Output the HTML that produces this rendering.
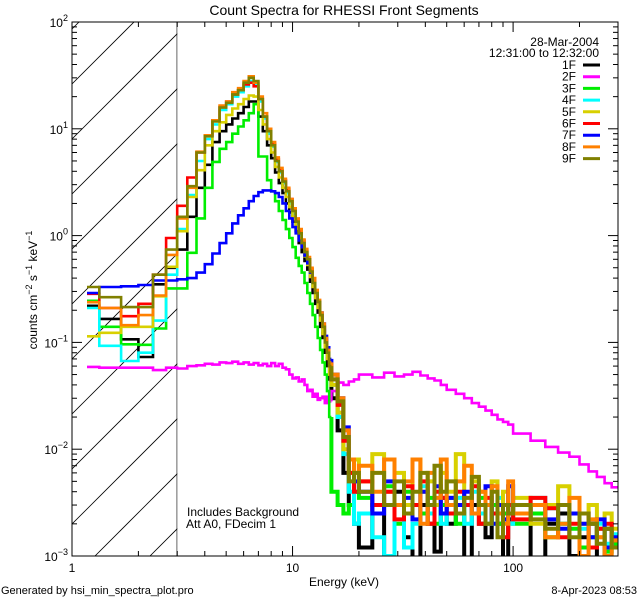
<!DOCTYPE html>
<html><head><meta charset="utf-8"><title>Count Spectra for RHESSI Front Segments</title>
<style>
html,body{margin:0;padding:0;background:#fff;overflow:hidden;width:640px;height:600px;}
svg{display:block;font-family:"Liberation Sans",sans-serif;}
</style></head>
<body>
<svg id="chart" width="640" height="600" viewBox="0 0 640 600" xmlns="http://www.w3.org/2000/svg">
<rect width="640" height="600" fill="#fff"/>
<text x="344" y="15" font-size="14" text-anchor="middle">Count Spectra for RHESSI Front Segments</text>
<g id="hatch"></g>
<g id="series"></g>
<g id="axes"></g>
<text x="344" y="586" font-size="12" text-anchor="middle">Energy (keV)</text>
<text transform="translate(37,290) rotate(-90)" font-size="12" text-anchor="middle">counts cm<tspan dy="-5" font-size="9">−2</tspan><tspan dy="5"> s</tspan><tspan dy="-5" font-size="9">−1</tspan><tspan dy="5"> keV</tspan><tspan dy="-5" font-size="9">−1</tspan></text>
<text x="187" y="516" font-size="12">Includes Background</text>
<text x="186" y="528" font-size="12">Att A0, FDecim 1</text>
<text x="599" y="46" font-size="12" text-anchor="end">28-Mar-2004</text>
<text x="599" y="57" font-size="12" text-anchor="end">12:31:00 to 12:32:00</text>
<g id="legend"></g>
<text x="1" y="594" font-size="11">Generated by hsi_min_spectra_plot.pro</text>
<text x="637" y="594" font-size="11" text-anchor="end">8-Apr-2023 08:53</text>
</svg>
<script>
const edges=[1.17,1.33,1.67,2,2.33,2.67,3,
3.333,3.667,4,4.333,4.667,5,5.333,5.667,6,6.333,6.667,7,7.333,7.667,8,8.333,8.667,9,9.333,9.667,10,10.333,10.667,11,11.333,11.667,12,12.333,12.667,13,13.333,13.667,14,14.333,14.667,15,
16,17,18,19,20,23,26,29,32,35,38,41,44,47,50,55,60,65,70,75,80,85,90,95,100,120,140,160,180,200,220,240,260,280,300];
const seriesNames=["1F","2F","3F","4F","5F","6F","7F","8F","9F"];
const seriesColors=["#000000","#ff00ff","#00ee00","#00ffff","#d8d000","#ff0000","#0000ff","#ff8000","#808000"];
const s1F=[0.22,0.166,0.107,0.073,0.35,0.5,
0.74,1.5,2.8,4.6,7.5,9.5,11,12.5,14,16,18,18,13,9.5,7,5.3,3.9,3.1,2.5,2.0,1.65,1.35,1.1,0.85,0.7,0.58,0.48,0.37,0.29,0.23,0.19,0.14,0.11,0.08,0.06,0.045,
0.03,0.015,0.006,0.003,0.002,0.0012,0.003,0.0008,0.004,0.0015,0.0009,0.003,0.002,0.0011,0.0035,0.002,0.0025,0.0008,0.003,0.002,0.0015,0.0025,0.002,0.0009,0.0022,0.003,0.0008,0.002,0.0025,0.001,0.0015,0.002,0.0009,0.0018,0.0012];
const s2F=[0.059,0.058,0.058,0.058,0.055,0.058,
0.057,0.06,0.061,0.063,0.062,0.065,0.064,0.066,0.063,0.065,0.062,0.064,0.061,0.063,0.06,0.064,0.06,0.063,0.058,0.056,0.05,0.046,0.047,0.043,0.045,0.04,0.035,0.036,0.031,0.033,0.029,0.03,0.031,0.027,0.031,0.028,
0.035,0.042,0.04,0.043,0.045,0.05,0.047,0.052,0.048,0.05,0.053,0.049,0.046,0.044,0.04,0.036,0.033,0.03,0.027,0.025,0.023,0.021,0.019,0.018,0.017,0.014,0.012,0.0105,0.0093,0.0085,0.0072,0.0062,0.0055,0.0048,0.0044];
const s3F=[0.245,0.14,0.096,0.095,0.135,0.32,
0.32,0.69,1.45,2.8,4.9,6.5,7.5,9,10.5,12,14,17,5.5,5.5,3.3,2.6,2.1,1.7,1.4,1.15,0.95,0.78,0.62,0.52,0.45,0.36,0.29,0.23,0.18,0.14,0.11,0.085,0.065,0.05,0.035,0.02,
0.004,0.003,0.0025,0.003,0.004,0.0035,0.003,0.0045,0.002,0.004,0.003,0.0025,0.0035,0.002,0.003,0.0035,0.002,0.003,0.0025,0.0035,0.002,0.003,0.002,0.0025,0.003,0.002,0.0025,0.0015,0.002,0.0018,0.0012,0.0015,0.0018,0.0011,0.0013];
const s4F=[0.21,0.093,0.067,0.08,0.16,0.43,
1.15,2.4,5,8,11,15,17,20,22,25,28,26,18,12.5,9,6.8,4.9,3.9,3.1,2.5,2.0,1.6,1.3,1.0,0.82,0.68,0.57,0.44,0.35,0.28,0.23,0.17,0.13,0.095,0.075,0.055,
0.04,0.02,0.009,0.004,0.002,0.0025,0.0015,0.001,0.003,0.0012,0.002,0.0045,0.0025,0.003,0.002,0.003,0.0035,0.002,0.004,0.0025,0.003,0.002,0.0035,0.003,0.002,0.0025,0.0035,0.0028,0.002,0.0025,0.0018,0.0015,0.002,0.0013,0.0016];
const s5F=[0.114,0.123,0.14,0.14,0.27,0.51,
1.1,2.3,4.1,7,9.5,11.5,13.5,15.5,17,19,20.5,20,15,11,8,6,4.4,3.5,2.8,2.3,1.85,1.5,1.2,0.95,0.78,0.64,0.53,0.41,0.33,0.26,0.21,0.16,0.12,0.09,0.07,0.05,
0.04,0.022,0.01,0.006,0.008,0.005,0.009,0.004,0.006,0.003,0.008,0.004,0.005,0.003,0.006,0.004,0.009,0.003,0.005,0.004,0.003,0.005,0.0025,0.004,0.003,0.0035,0.002,0.003,0.0045,0.0025,0.002,0.003,0.0015,0.0025,0.0018];
const s6F=[0.285,0.21,0.176,0.23,0.43,0.95,
1.9,3.5,6,8.7,12,16,18,21,23,26,27,25,19,13,9.5,7.2,5.2,4.1,3.3,2.7,2.2,1.75,1.4,1.1,0.9,0.72,0.6,0.48,0.38,0.3,0.24,0.18,0.14,0.105,0.08,0.06,
0.045,0.026,0.012,0.006,0.004,0.005,0.003,0.004,0.0022,0.0045,0.003,0.005,0.002,0.004,0.0035,0.0025,0.004,0.003,0.0045,0.002,0.0035,0.0025,0.003,0.0015,0.003,0.0022,0.0035,0.0028,0.0015,0.002,0.0025,0.0012,0.0018,0.002,0.0014];
const s7F=[0.29,0.33,0.335,0.345,0.38,0.38,
0.39,0.40,0.45,0.54,0.68,0.85,1.05,1.3,1.55,1.8,2.1,2.35,2.55,2.65,2.65,2.6,2.5,2.3,2.0,1.7,1.45,1.2,1.05,0.9,0.78,0.65,0.55,0.45,0.37,0.3,0.24,0.19,0.15,0.115,0.09,0.07,
0.05,0.03,0.016,0.008,0.005,0.004,0.0025,0.005,0.003,0.0035,0.0022,0.004,0.003,0.0045,0.0025,0.0035,0.003,0.004,0.0025,0.003,0.0045,0.002,0.003,0.0022,0.0045,0.0025,0.003,0.0022,0.0018,0.0025,0.002,0.0015,0.0022,0.0012,0.0015];
const s8F=[0.238,0.21,0.145,0.18,0.275,0.66,
1.45,2.8,6.1,8.7,12,16.5,18,22,24,28,31,27,20,14,10,7.5,5.4,4.3,3.4,2.8,2.2,1.8,1.45,1.15,0.92,0.75,0.63,0.5,0.4,0.31,0.25,0.19,0.15,0.11,0.085,0.065,
0.05,0.03,0.015,0.008,0.006,0.007,0.004,0.008,0.003,0.005,0.008,0.002,0.006,0.0035,0.008,0.003,0.005,0.007,0.0025,0.004,0.003,0.0045,0.0025,0.002,0.005,0.0025,0.003,0.0015,0.002,0.0035,0.001,0.0022,0.0015,0.001,0.0014];
const s9F=[0.33,0.265,0.214,0.214,0.43,0.74,
1.5,2.9,6.0,8.5,11.7,15.8,17.5,21,23,27,30,28,19,13,9.5,7,5,4,3.2,2.6,2.1,1.7,1.35,1.05,0.85,0.7,0.6,0.46,0.36,0.29,0.24,0.18,0.14,0.1,0.08,0.06,
0.045,0.028,0.013,0.005,0.006,0.004,0.006,0.003,0.005,0.0025,0.004,0.006,0.003,0.007,0.004,0.005,0.0025,0.0035,0.0055,0.003,0.002,0.004,0.0015,0.003,0.0025,0.003,0.0022,0.0018,0.003,0.0015,0.0025,0.002,0.0013,0.0018,0.0012];
const seriesValues=[s1F,s2F,s3F,s4F,s5F,s6F,s7F,s8F,s9F];
const xTickLabels=["1","10","100"];
const yTickExps=["2","1","0","−1","−2","−3"];

const NS="http://www.w3.org/2000/svg";
const X0=72,X1=618,Y0=22,Y1=556;
const XMIN=1,XMAX=299,YMIN=1e-3,YMAX=100;
const TAIL_START=15;
function xs(v){return X0+(Math.log10(v)-Math.log10(XMIN))/(Math.log10(XMAX)-Math.log10(XMIN))*(X1-X0);}
function ys(v){v=Math.max(v,YMIN*0.9);return Y0+(Math.log10(YMAX)-Math.log10(v))/(Math.log10(YMAX)-Math.log10(YMIN))*(Y1-Y0);}
function mk(tag,attrs,parent){const e=document.createElementNS(NS,tag);for(const k in attrs)e.setAttribute(k,attrs[k]);parent.appendChild(e);return e;}

const svg=document.getElementById('chart');
const defs=mk('defs',{},svg);
const cp=mk('clipPath',{id:'plotclip'},defs);
mk('rect',{x:X0,y:Y0,width:X1-X0,height:Y1-Y0},cp);
const hc=mk('clipPath',{id:'hatchclip'},defs);
mk('rect',{x:X0,y:Y0,width:xs(3)-X0,height:Y1-Y0},hc);

const hatch=document.getElementById('hatch');
hatch.setAttribute('clip-path','url(#hatchclip)');
for(let o=-582;o<700;o+=55){
  const ln=mk('line',{x1:X0,y1:Y1+o,x2:X0+700,y2:Y1+o-700,stroke:'#000','stroke-width':0.8},hatch);
  
  
}
const bl=mk('line',{x1:xs(3),y1:Y0,x2:xs(3),y2:Y1,stroke:'#000','stroke-width':1.2},hatch);



const sg=document.getElementById('series');
sg.setAttribute('clip-path','url(#plotclip)');
seriesValues.forEach((vals,si)=>{
  let dMain='',dTail='';
  for(let i=0;i<vals.length;i++){
    const xa=xs(edges[i]),xb=xs(edges[i+1]),y=ys(vals[i]);
    if(edges[i]<TAIL_START){
      dMain+=(dMain===''?'M':'L')+xa.toFixed(1)+','+y.toFixed(1)+'L'+xb.toFixed(1)+','+y.toFixed(1);
    }else{
      if(dTail===''){const yp=ys(vals[i-1]);dTail='M'+xa.toFixed(1)+','+yp.toFixed(1);}
      dTail+='L'+xa.toFixed(1)+','+y.toFixed(1)+'L'+xb.toFixed(1)+','+y.toFixed(1);
    }
  }
  const p=mk('path',{d:dMain,fill:'none',stroke:seriesColors[si],'stroke-width':2.6},sg);
  
  
  const w=si===1?2.6:4;
  const q=mk('path',{d:dTail,fill:'none',stroke:seriesColors[si],'stroke-width':w},sg);
  
  
});

const ax=document.getElementById('axes');
const fr=mk('rect',{x:X0,y:Y0,width:X1-X0,height:Y1-Y0,fill:'none',stroke:'#000','stroke-width':1},ax);


for(let dec=0;dec<3;dec++){
  for(let m=1;m<10;m++){
    const v=m*Math.pow(10,dec); if(v>XMAX)continue;
    const x=xs(v),L=(m===1)?10:5;
    mk('line',{x1:x,y1:Y1,x2:x,y2:Y1-L,stroke:'#000'},ax);
    mk('line',{x1:x,y1:Y0,x2:x,y2:Y0+L,stroke:'#000'},ax);
  }
}
xTickLabels.forEach((t,i)=>{
  const tx=mk('text',{x:xs(Math.pow(10,i)),y:Y1+16,'font-size':12,'text-anchor':'middle'},ax);
  tx.textContent=t;
  
  
});
for(let e=-3;e<=2;e++){
  for(let m=1;m<10;m++){
    const v=m*Math.pow(10,e); if(v>YMAX*1.0001)continue;
    const y=ys(v),L=(m===1)?10:5;
    mk('line',{x1:X0,y1:y,x2:X0+L,y2:y,stroke:'#000'},ax);
    mk('line',{x1:X1,y1:y,x2:X1-L,y2:y,stroke:'#000'},ax);
  }
}
yTickExps.forEach((t,i)=>{
  const y=ys(Math.pow(10,2-i));
  const tx=mk('text',{x:X0-4,y:y+5,'font-size':12,'text-anchor':'end'},ax);
  
  
  const a=document.createElementNS(NS,'tspan');a.textContent='10';tx.appendChild(a);
  const b=document.createElementNS(NS,'tspan');b.setAttribute('dy','-6');b.setAttribute('font-size','9');b.textContent=t;tx.appendChild(b);
});

const lg=document.getElementById('legend');
seriesNames.forEach((n,i)=>{
  const y=65+i*11.7;
  const g=mk('g',{},lg);
  
  
  const t=mk('text',{x:576,y:y+4,'font-size':12,'text-anchor':'end'},g);
  t.textContent=n;
  mk('line',{x1:583,y1:y,x2:600,y2:y,stroke:seriesColors[i],'stroke-width':3},g);
});
</script>
</body></html>
